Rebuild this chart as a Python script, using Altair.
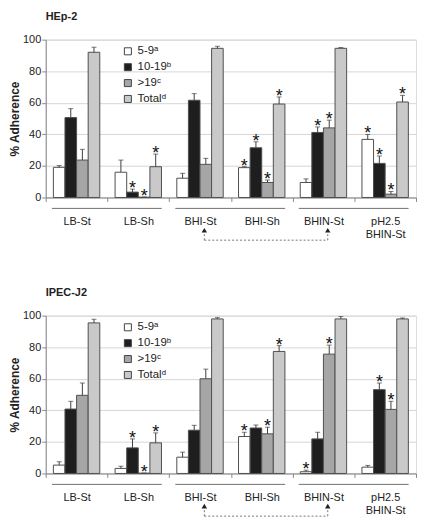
import altair as alt
import pandas as pd

categories = ["LB-St", "LB-Sh", "BHI-St", "BHI-Sh", "BHIN-St", "pH2.5 BHIN-St"]
series = ["5-9ᵃ", "10-19ᵇ", ">19ᶜ", "Totalᵈ"]
colors = ["#ffffff", "#1e1e1e", "#a6a6a6", "#c9c9c9"]

# HEp-2 panel
hep2_5_9 = [19.1, 16.0, 12.2, 18.9, 9.5, 36.8]
hep2_5_9_err = [1.1, 7.7, 3.1, 0.6, 2.3, 3.1]
hep2_5_9_star = [0, 0, 0, 1, 0, 1]
hep2_10_19 = [50.6, 3.4, 61.6, 31.5, 41.2, 21.6]
hep2_10_19_err = [5.7, 1.9, 4.2, 3.8, 3.5, 4.7]
hep2_10_19_star = [0, 1, 0, 1, 1, 1]
hep2_gt19 = [23.7, 0.2, 21.0, 9.5, 44.1, 2.1]
hep2_gt19_err = [6.8, 0.0, 3.8, 1.6, 4.9, 1.7]
hep2_gt19_star = [0, 1, 0, 1, 1, 1]
hep2_total = [92.0, 19.5, 94.5, 59.2, 94.5, 60.5]
hep2_total_err = [3.2, 8.0, 1.3, 4.5, 0.5, 4.2]
hep2_total_star = [0, 1, 0, 1, 0, 1]

# IPEC-J2 panel
ipec_5_9 = [5.3, 3.2, 10.3, 23.4, 1.1, 4.0]
ipec_5_9_err = [2.1, 1.4, 3.2, 2.7, 1.0, 1.1]
ipec_5_9_star = [0, 0, 0, 1, 1, 0]
ipec_10_19 = [40.8, 16.2, 27.4, 28.8, 21.9, 53.1]
ipec_10_19_err = [4.9, 5.7, 3.1, 1.9, 4.2, 4.2]
ipec_10_19_star = [0, 1, 0, 0, 0, 1]
ipec_gt19 = [49.5, 0.2, 60.0, 25.1, 75.6, 40.6]
ipec_gt19_err = [7.8, 0.0, 6.1, 4.2, 5.7, 5.1]
ipec_gt19_star = [0, 1, 0, 1, 1, 1]
ipec_total = [95.4, 19.4, 97.9, 77.3, 97.9, 97.9]
ipec_total_err = [2.3, 6.3, 0.8, 3.7, 1.5, 0.6]
ipec_total_star = [0, 1, 0, 1, 0, 0]

y_ticks = [0, 20, 40, 60, 80, 100]
group_starts = ["LB-St", "BHI-St", "BHIN-St"]
group_ends = ["LB-Sh", "BHI-Sh", "pH2.5 BHIN-St"]
arrow_from = "BHI-St"
arrow_to = "BHIN-St"

W = 373
H = 159
FONT = "Liberation Sans"


def build_df(vals, errs, stars):
    rows = []
    for s, v, e, st in zip(series, vals, errs, stars):
        for c, vv, ee, ss in zip(categories, v, e, st):
            rows.append({"cat": c, "series": s, "val": vv, "top": vv + ee, "star": ss})
    return pd.DataFrame(rows)


def panel(title, df):
    xscale = alt.Scale(domain=categories, paddingInner=0, paddingOuter=0)
    xax = alt.Axis(
        title=None, tickBand="extent", labelPadding=14, tickSize=4, labelAngle=0,
        domainColor="#888888", tickColor="#888888", labelColor="#222222",
        labelFontSize=11, labelLineHeight=13, grid=False,
        labelExpr="datum.label == 'pH2.5 BHIN-St' ? ['pH2.5', 'BHIN-St'] : datum.label",
    )
    yscale = alt.Scale(domain=[0, 100])
    yax = alt.Axis(values=y_ticks, title="% Adherence", labelOverlap=False,
                   grid=True, gridColor="#d6d6d6", domainColor="#888888",
                   tickColor="#888888", tickSize=4, labelPadding=1,
                   labelFontSize=11, labelColor="#222222",
                   titleFontSize=12, titleFontWeight="bold", titlePadding=1,
                   titleColor="#222222")
    x = alt.X("cat:N", scale=xscale, axis=xax, title=None)
    xoff = alt.XOffset("series:N", sort=series,
                       scale=alt.Scale(domain=series, paddingOuter=0.66, paddingInner=0))
    yv = alt.Y("val:Q", scale=yscale, axis=yax, title="% Adherence")
    yt = alt.Y("top:Q", scale=yscale, axis=yax, title="% Adherence")
    base = alt.Chart(df)
    bars = base.mark_bar(stroke="#505050", strokeWidth=1).encode(
        x=x, xOffset=xoff, y=yv,
        color=alt.Color("series:N", sort=series,
                        scale=alt.Scale(domain=series, range=colors),
                        legend=alt.Legend(orient="none", legendX=77, legendY=6, title=None,
                                          symbolType="square", symbolSize=50,
                                          symbolStrokeColor="#444444", symbolStrokeWidth=1,
                                          labelFontSize=11.5, labelColor="#222222",
                                          rowPadding=3, labelOffset=4)),
    )
    errs = base.mark_rule(color="#404040", strokeWidth=1).encode(
        x=x, xOffset=xoff, y=yv, y2="top:Q")
    caps = base.mark_tick(color="#404040", size=5, thickness=1).encode(
        x=x, xOffset=xoff, y=yt)
    stars = base.transform_filter("datum.star == 1").mark_text(
        text="*", fontSize=18, font=FONT, baseline="alphabetic", dy=5, color="#111111"
    ).encode(x=x, xOffset=xoff, y=yt)

    gdf = pd.DataFrame({"start": group_starts, "end": group_ends})
    glines = alt.Chart(gdf).mark_rule(color="#707070", strokeWidth=1).encode(
        x=alt.X("start:N", scale=xscale, bandPosition=0.1, axis=xax, title=None),
        x2=alt.X2("end:N", bandPosition=0.88),
        y=alt.value(H + 11),
    )
    adf = pd.DataFrame({"a": [arrow_from], "b": [arrow_to]})
    hline = alt.Chart(adf).mark_rule(color="#777777", strokeWidth=1, strokeDash=[2, 2]).encode(
        x=alt.X("a:N", scale=xscale, bandPosition=0.57, axis=xax, title=None),
        x2=alt.X2("b:N", bandPosition=0.57),
        y=alt.value(H + 43),
    )
    pdf = pd.DataFrame({"p": [arrow_from, arrow_to]})
    vlines = alt.Chart(pdf).mark_rule(color="#777777", strokeWidth=1, strokeDash=[2, 2]).encode(
        x=alt.X("p:N", scale=xscale, bandPosition=0.57, axis=xax, title=None),
        y=alt.value(H + 43), y2=alt.value(H + 35),
    )
    heads = alt.Chart(pdf).mark_point(shape="triangle-up", filled=True, size=30,
                                      color="#222222", opacity=1).encode(
        x=alt.X("p:N", scale=xscale, bandPosition=0.57, axis=xax, title=None),
        y=alt.value(H + 33),
    )
    return alt.layer(bars, errs, caps, stars, glines, hline, vlines, heads).properties(
        width=W, height=H,
        title=alt.TitleParams(title, anchor="start", frame="group", fontSize=11,
                              fontWeight="bold", offset=12, color="#222222"),
    )


top = panel("HEp-2", build_df([hep2_5_9, hep2_10_19, hep2_gt19, hep2_total],
                              [hep2_5_9_err, hep2_10_19_err, hep2_gt19_err, hep2_total_err],
                              [hep2_5_9_star, hep2_10_19_star, hep2_gt19_star, hep2_total_star]))
bottom = panel("IPEC-J2", build_df([ipec_5_9, ipec_10_19, ipec_gt19, ipec_total],
                                   [ipec_5_9_err, ipec_10_19_err, ipec_gt19_err, ipec_total_err],
                                   [ipec_5_9_star, ipec_10_19_star, ipec_gt19_star, ipec_total_star]))

chart = alt.vconcat(top, bottom, spacing=45).resolve_scale(
    color="independent").resolve_legend(color="independent").properties(
    padding={"left": 0, "top": 0, "right": 0, "bottom": 0}
).configure_view(strokeWidth=0).configure(font=FONT)

chart.save("out.html", embed_options={"renderer": "svg", "actions": False})
